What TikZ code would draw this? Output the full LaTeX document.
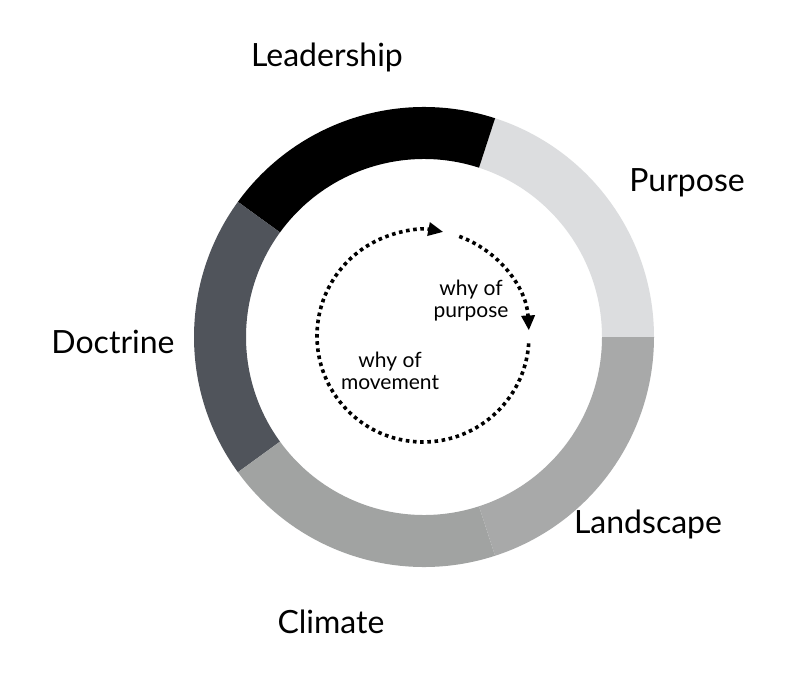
\documentclass[tikz,border=0pt]{standalone}
\usepackage{fontspec}
\setmainfont{Lato}
\usepackage{xcolor}
\definecolor{purposegray}{HTML}{DCDDDF}
\definecolor{landgray}{HTML}{A8A9A9}
\definecolor{climgray}{HTML}{A1A3A2}
\definecolor{doctgray}{HTML}{50545B}
\usetikzlibrary{arrows.meta,calc}

\begin{document}
\begin{tikzpicture}[
    x=1pt, y=1pt,
    big-lbl/.style={font=\fontsize{32}{36}\selectfont, anchor=base},
    small-lbl/.style={font=\fontsize{21}{22}\selectfont, align=center},
    dot-arc/.style={line width=3.6pt, dash pattern=on 3.6pt off 3.6pt, -{Triangle[length=15pt,width=13pt]}}
  ]
\useasboundingbox[fill=white] (0,0) rectangle (800,-676);

\coordinate (ctr) at (424,-337);

% Outer ring, five equal parts
\foreach \a/\col in {0/purposegray, 72/black, 144/doctgray, 216/climgray, 288/landgray} {
    \fill[\col] ($(ctr)+(\a:230)$) arc[start angle=\a, end angle=\a+72, radius=230pt]
        -- ($(ctr)+(\a+72:178)$) arc[start angle=\a+72, end angle=\a, radius=178pt] -- cycle;
}

% Labels round the ring
\node[big-lbl] (lead) at (327,-67) {Leadership};
\node[big-lbl] (purp) at (687,-192) {Purpose};
\node[big-lbl] (doct) at (113,-353) {Doctrine};
\node[big-lbl] (land) at (648,-533) {Landscape};
\node[big-lbl] (clim) at (331,-633) {Climate};

% Dotted cycle in the middle
\coordinate (mid) at (423,-336);
\draw[dot-arc] ($(mid)+(-4:106)$) arc[start angle=-4, end angle=-281, radius=106pt];
\draw[dot-arc] ($(mid)+(70:106)$) arc[start angle=70, end angle=3, radius=106pt];

\node[small-lbl] (whyp) at (471,-301) {why of\\purpose};
\node[small-lbl] (whym) at (390,-371) {why of\\movement};

\end{tikzpicture}
\end{document}
